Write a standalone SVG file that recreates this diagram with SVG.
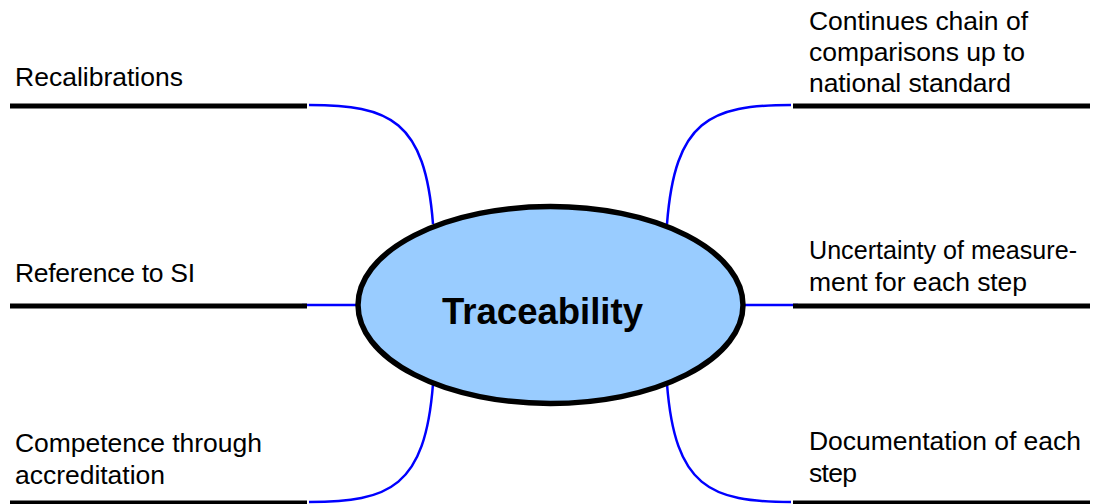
<svg xmlns="http://www.w3.org/2000/svg" width="1094" height="504" viewBox="0 0 1094 504">
<style>
.bar{stroke:#000;stroke-width:5;fill:none}
.conn{stroke:#0000FF;stroke-width:2.5;fill:none}
.lbl{font-family:"Liberation Sans",Arial,sans-serif;font-size:26.5px;fill:#000}
.title{font-family:"Liberation Sans",Arial,sans-serif;font-size:37px;font-weight:bold;fill:#000}
</style>
<rect width="1094" height="504" fill="#fff"/>
<g id="connectors">
<path class="conn" d="M309,105 C390,105 425,120 433,224"/>
<path class="conn" d="M791,105 C710,105 675,120 667,224"/>
<path class="conn" d="M302,305 L359,305"/>
<path class="conn" d="M742,305 L798,305"/>
<path class="conn" d="M309,502 C390,502 425,487 433,384"/>
<path class="conn" d="M791,502 C710,502 675,487 667,384"/>
</g>
<g id="center">
<ellipse cx="550.5" cy="305" rx="192.5" ry="98.5" fill="#99CCFF" stroke="#000" stroke-width="5.5"/>
<text class="title" x="442" y="324" textLength="201" lengthAdjust="spacingAndGlyphs">Traceability</text>
</g>
<g id="recalibrations">
<line class="bar" x1="10" y1="106" x2="307" y2="106"/>
<text class="lbl" x="15" y="86" textLength="168">Recalibrations</text>
</g>
<g id="reference">
<line class="bar" x1="10" y1="306" x2="307" y2="306"/>
<text class="lbl" x="15" y="282" textLength="180">Reference to SI</text>
</g>
<g id="competence">
<line class="bar" x1="10" y1="503" x2="307" y2="503"/>
<text class="lbl" x="15" y="452" textLength="247">Competence through</text>
<text class="lbl" x="15" y="484" textLength="150">accreditation</text>
</g>
<g id="chain">
<line class="bar" x1="793" y1="106" x2="1090" y2="106"/>
<text class="lbl" x="809" y="30" textLength="219">Continues chain of</text>
<text class="lbl" x="809" y="61" textLength="216">comparisons up to</text>
<text class="lbl" x="809" y="92" textLength="202">national standard</text>
</g>
<g id="uncertainty">
<line class="bar" x1="793" y1="306" x2="1090" y2="306"/>
<text class="lbl" x="809" y="259" textLength="268" lengthAdjust="spacingAndGlyphs">Uncertainty of measure-</text>
<text class="lbl" x="809" y="291" textLength="218">ment for each step</text>
</g>
<g id="documentation">
<line class="bar" x1="793" y1="503" x2="1090" y2="503"/>
<text class="lbl" x="809" y="450" textLength="272">Documentation of each</text>
<text class="lbl" x="809" y="482" textLength="48">step</text>
</g>
</svg>
